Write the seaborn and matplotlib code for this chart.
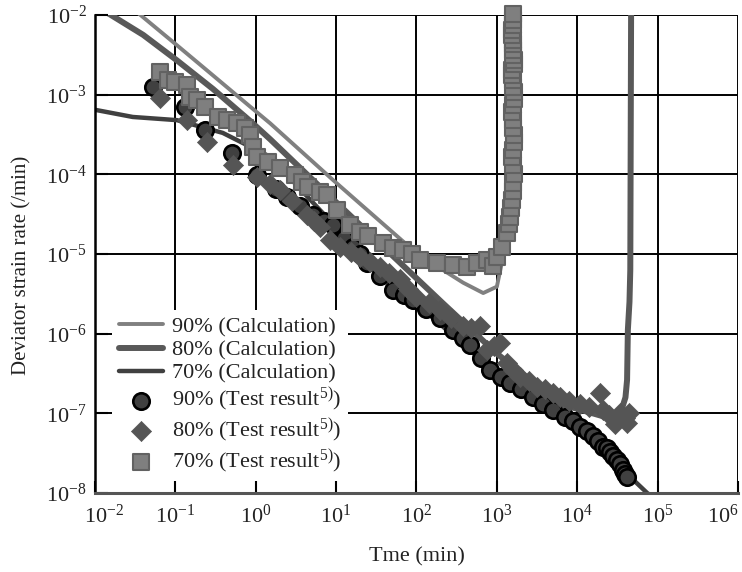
import numpy as np
import pandas as pd
import matplotlib
matplotlib.use("Agg")
import matplotlib.pyplot as plt
import seaborn as sns
from matplotlib.ticker import NullLocator
from matplotlib.transforms import ScaledTranslation

# ---------------- data (log10 values) ----------------
# Calculation curves: log10(time, min) and log10(deviator strain rate, /min)
calc90_logt = [-1.60, -1.47, -0.98, -0.53, -0.07, 0.18, 0.96, 2.00, 2.58, 2.83, 3.00, 3.07, 3.12, 3.16, 3.20, 3.22]
calc90_logr = [-1.85, -1.97, -2.38, -2.76, -3.15, -3.36, -4.07, -4.99, -5.36, -5.49, -5.41, -5.07, -4.74, -3.69, -2.00, -1.80]

calc80_logt = [-2.00, -1.85, -1.40, -0.98, -0.53, -0.07, 0.18, 1.00, 2.33, 3.00, 3.78, 4.40, 4.55, 4.60, 4.62, 4.63, 4.65, 4.66, 4.67, 4.67]
calc80_logr = [-1.89, -1.97, -2.25, -2.57, -2.93, -3.33, -3.56, -4.35, -5.62, -6.25, -6.88, -7.06, -6.96, -6.80, -6.58, -5.95, -5.60, -5.20, -2.00, -1.80]

calc70_logt = [-2.00, -1.53, -0.98, -0.41, 0.18, 0.80, 1.54, 3.00, 4.03, 4.62, 4.87, 5.00]
calc70_logr = [-3.19, -3.28, -3.32, -3.48, -3.78, -4.45, -5.22, -6.50, -7.22, -7.76, -8.00, -8.10]

# Test results
test90_logt = [-1.28, -0.88, -0.63, -0.30, 0.01, 0.25, 0.39, 0.55, 0.71, 0.85, 0.96, 1.10, 1.21, 1.30,
               1.38, 1.55, 1.71, 1.85, 1.96, 2.12, 2.29, 2.45, 2.58, 2.66, 2.80, 2.91, 3.05, 3.16,
               3.30, 3.45, 3.58, 3.70, 3.85, 3.95, 4.03, 4.12, 4.19, 4.26, 4.32, 4.37, 4.41, 4.45,
               4.49, 4.53, 4.57, 4.60, 4.62]
test90_logr = [-2.90, -3.15, -3.44, -3.73, -4.01, -4.18, -4.28, -4.40, -4.51, -4.58, -4.63, -4.80, -4.91, -5.00,
               -5.11, -5.27, -5.45, -5.52, -5.58, -5.69, -5.80, -5.95, -6.06, -6.14, -6.30, -6.45, -6.55, -6.62,
               -6.70, -6.79, -6.88, -6.96, -7.04, -7.10, -7.17, -7.22, -7.29, -7.35, -7.42, -7.44, -7.48, -7.53,
               -7.58, -7.64, -7.71, -7.76, -7.80]

test80_logt = [-1.19, -0.86, -0.61, -0.28, 0.01, 0.18, 0.30, 0.45, 0.64, 0.72, 0.80, 0.92, 1.05, 1.18,
               1.30, 1.42, 1.54, 1.66, 1.79, 1.90, 2.00, 2.15, 2.29, 2.43, 2.58, 2.68, 2.79, 2.88,
               2.96, 3.04, 3.12, 3.20, 3.29, 3.40, 3.50, 3.60, 3.70, 3.78, 3.90, 4.03, 4.15, 4.28,
               4.32, 4.40, 4.47, 4.53, 4.59, 4.65, 4.62]
test80_logr = [-3.04, -3.32, -3.59, -3.88, -4.03, -4.12, -4.20, -4.33, -4.51, -4.58, -4.66, -4.82, -4.91, -4.97,
               -5.04, -5.10, -5.16, -5.24, -5.32, -5.44, -5.54, -5.62, -5.70, -5.80, -5.91, -5.93, -5.91, -6.20,
               -6.15, -6.12, -6.37, -6.45, -6.54, -6.60, -6.67, -6.70, -6.74, -6.79, -6.84, -6.88, -6.92, -6.74,
               -6.96, -7.02, -7.14, -6.99, -7.06, -6.99, -7.12]

test70_logt = [-1.19, -1.09, -1.00, -0.86, -0.82, -0.73, -0.63, -0.47, -0.36, -0.23, -0.13, -0.07, -0.03, 0.01,
               0.15, 0.30, 0.49, 0.57, 0.65, 0.80, 0.89, 1.01, 1.17, 1.30, 1.40, 1.58, 1.71, 1.83, 1.95,
               2.04, 2.25, 2.45, 2.63, 2.75, 2.88, 2.95, 3.00, 3.07, 3.12, 3.15, 3.16, 3.18, 3.19, 3.20,
               3.20, 3.21, 3.20, 3.19, 3.20, 3.21, 3.21, 3.20, 3.20, 3.19, 3.20, 3.21, 3.21, 3.20, 3.20,
               3.19, 3.19, 3.21, 3.21, 3.20, 3.20, 3.20, 3.20, 3.19, 3.19, 3.20, 3.20, 3.20]
test70_logr = [-2.72, -2.82, -2.84, -2.88, -3.03, -3.07, -3.15, -3.28, -3.32, -3.36, -3.42, -3.51, -3.66, -3.78,
               -3.85, -3.92, -4.01, -4.10, -4.16, -4.22, -4.26, -4.45, -4.63, -4.72, -4.78, -4.86, -4.92, -4.95, -5.00,
               -5.07, -5.11, -5.14, -5.16, -5.11, -5.07, -5.15, -5.04, -4.91, -4.74, -4.62, -4.53, -4.42, -4.32, -4.21,
               -4.11, -4.00, -3.88, -3.78, -3.69, -3.60, -3.51, -3.42, -3.32, -3.22, -3.13, -3.05, -2.97, -2.90, -2.82,
               -2.75, -2.69, -2.62, -2.56, -2.50, -2.44, -2.37, -2.31, -2.25, -2.19, -2.12, -2.06, -1.99]

labels_calc = ["90% (Calculation)", "80% (Calculation)", "70% (Calculation)"]
labels_test = [r"90% (Test result$^{\mathrm{5)}}$)", r"80% (Test result$^{\mathrm{5)}}$)", r"70% (Test result$^{\mathrm{5)}}$)"]
xtick_exps = [-2, -1, 0, 1, 2, 3, 4, 5, 6]
ytick_exps = [-8, -7, -6, -5, -4, -3, -2]

# ---------------- style ----------------
sns.set_style("white")
plt.rcParams["font.family"] = ["Liberation Serif", "DejaVu Serif"]
plt.rcParams["mathtext.fontset"] = "custom"
plt.rcParams["mathtext.rm"] = "Liberation Serif"
plt.rcParams["mathtext.it"] = "Liberation Serif:italic"
plt.rcParams["axes.unicode_minus"] = False

fig = plt.figure(figsize=(7.42, 5.72), dpi=100)
pos = [0.128, 0.1381, 0.8666, 0.8357]
ax = fig.add_axes(pos)
ax.set_xscale("log")
ax.set_yscale("log")

def tf(a):
    return 10.0 ** np.asarray(a, dtype=float)

# calculation lines
line_specs = [
    (calc90_logt, calc90_logr, "#808080", 2.8),
    (calc80_logt, calc80_logr, "#595959", 4.3),
    (calc70_logt, calc70_logr, "#404040", 3.2),
]
for (lt, lr, col, lw), lab in zip(line_specs, labels_calc):
    df = pd.DataFrame({"t": tf(lt), "r": tf(lr)})
    sns.lineplot(data=df, x="t", y="r", sort=False, estimator=None, color=col,
                 linewidth=lw, label=lab, ax=ax, zorder=2)

# test markers
scat_specs = [
    (test90_logt, test90_logr, "o", 140, "#404040", "black", 1.9),
    (test80_logt, test80_logr, "D", 105, "#555555", "#555555", 0.5),
    (test70_logt, test70_logr, "s", 140, "#7f7f7f", "#626262", 1.5),
]
for (lt, lr, mk, s, fc, ec, elw), lab in zip(scat_specs, labels_test):
    df = pd.DataFrame({"t": tf(lt), "r": tf(lr)})
    sns.scatterplot(data=df, x="t", y="r", marker=mk, s=s, color=fc, edgecolor=ec,
                    linewidth=elw, label=lab, ax=ax, zorder=3, clip_on=False)

ax.set_xlim(1e-2, 1e6)
ax.set_ylim(1e-8, 1e-2)
ax.set_xticks(tf(xtick_exps))
ax.set_yticks(tf(ytick_exps))
ax.xaxis.set_minor_locator(NullLocator())
ax.yaxis.set_minor_locator(NullLocator())
ax.grid(True, which="major", color="black", linewidth=1.4)
ax.tick_params(axis="both", which="both", length=0, labelsize=16, colors="#222222")
ax.tick_params(axis="x", pad=8)
ax.tick_params(axis="y", pad=6)
for sp in ax.spines.values():
    sp.set_visible(False)
ax.set_xlabel("Tme (min)", fontsize=16, labelpad=14, color="#222222")
ax.set_ylabel("Deviator strain rate (/min)", fontsize=15, color="#222222")
ax.yaxis.set_label_coords(-0.098, 0.477)

leg = ax.legend(loc="lower left", bbox_to_anchor=(0.027, 0.022), frameon=True, facecolor="white",
                edgecolor="none", framealpha=1, fancybox=False, fontsize=16,
                handlelength=2.0, handletextpad=0.4, labelspacing=0.12, borderpad=0.3,
                borderaxespad=0.0)
for t in leg.get_texts():
    t.set_color("#222222")

# overlay axes for inward ticks and spines drawn above the legend
ax2 = fig.add_axes(pos, sharex=ax, sharey=ax)
ax2.patch.set_visible(False)
ax2.grid(False)
ax2.tick_params(axis="both", which="major", direction="in", length=9, width=1.5, color="black",
                bottom=True, left=True, top=False, right=False, labelbottom=False, labelleft=False)
ax2.tick_params(axis="both", which="minor", length=0)
ax2.spines["top"].set_visible(False)
ax2.spines["right"].set_visible(False)
ax2.spines["left"].set_color("black")
ax2.spines["left"].set_linewidth(1.8)
ax2.spines["bottom"].set_color("#555555")
ax2.spines["bottom"].set_linewidth(2.2)
ax2.set_xlabel("")
ax2.set_ylabel("")

# keep the outer x tick labels inside the figure like the reference
xt = ax.xaxis.get_major_ticks()
xt[0].label1.set_transform(xt[0].label1.get_transform() + ScaledTranslation(0.09, 0, fig.dpi_scale_trans))
xt[-1].label1.set_transform(xt[-1].label1.get_transform() + ScaledTranslation(-0.15, 0, fig.dpi_scale_trans))

fig.savefig("out.png", dpi=100)
